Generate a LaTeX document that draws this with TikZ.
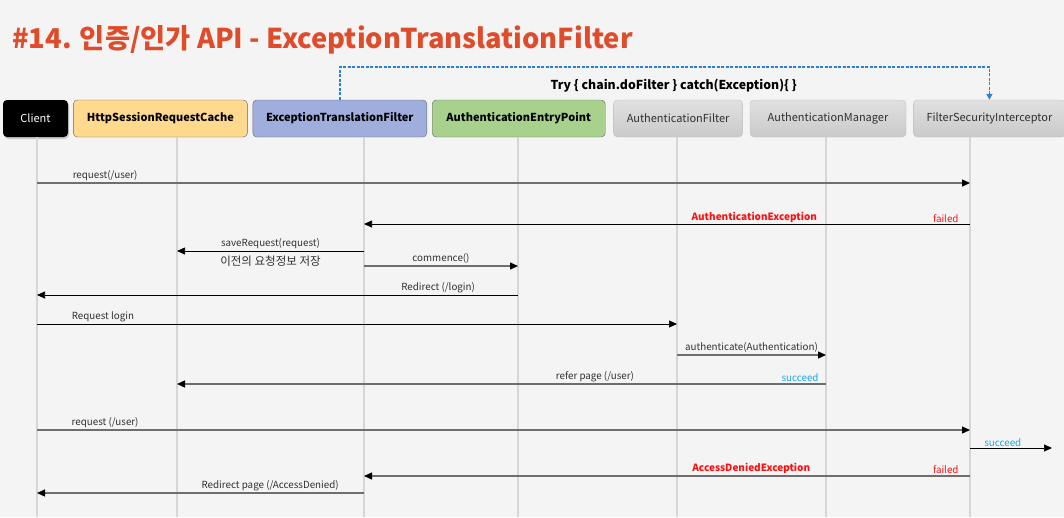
\documentclass[tikz,border=0pt]{standalone}
\usepackage{fontspec}
\setmainfont{Noto Sans CJK KR}
\usetikzlibrary{positioning,arrows.meta,shadows}

\definecolor{bgcol}{HTML}{F4F4F4}
\definecolor{titlecol}{HTML}{DE4C2C}
\definecolor{cachecol}{HTML}{FFD98E}
\definecolor{etfcol}{HTML}{9FAEDD}
\definecolor{aepcol}{HTML}{A9D18E}
\definecolor{lifecol}{HTML}{D6D6D6}
\definecolor{msggray}{HTML}{6E6E6E}
\definecolor{failcol}{HTML}{FF1010}
\definecolor{okcol}{HTML}{1AA7E6}
\definecolor{trycol}{HTML}{2A82D4}
\definecolor{txtcol}{HTML}{303030}

\begin{document}
\begin{tikzpicture}[x=1pt,y=-1pt,node distance=5pt,
   box/.style={rounded corners=4pt,minimum height=37pt,inner sep=0pt,font=\fontsize{11}{13}\selectfont},
   hdr/.style={box,draw=black!60,fill=#1,font=\fontsize{11}{13}\selectfont\bfseries},
   greybox/.style={box,draw=black!25,top color=black!12,bottom color=black!21,text=txtcol},
   life/.style={draw=lifecol,line width=1.3pt},
   msg/.style={-{Triangle[length=8pt,width=7pt,color=black]},line width=0.7pt},
   msgg/.style={msg,draw=msggray,line width=1.2pt},
   lbl/.style={font=\fontsize{9.8}{11}\selectfont,text=txtcol,inner sep=1.5pt},
   exc/.style={lbl,text=failcol,font=\fontsize{10}{11}\selectfont\bfseries},
   fail/.style={lbl,text=failcol},
   ok/.style={lbl,text=okcol},
   trydash/.style={draw=trycol,line width=1.4pt,dash pattern=on 3pt off 1.5pt,-{Triangle[length=6pt,width=6pt]}}]
   \path[use as bounding box,fill=bgcol] (0,0) rectangle (1064,517);
   \node[anchor=base west,inner sep=0pt,text=titlecol,font=\fontsize{27.3}{32}\selectfont\bfseries] (title) at (12,48)
      {\#14. 인증/인가 API - ExceptionTranslationFilter};

   \node[box,fill=black,text=white,minimum width=65pt,drop shadow={shadow xshift=1pt,shadow yshift=-2pt,opacity=.35}] (client) at (35.5,118.5) {Client};
   \node[hdr=cachecol,minimum width=174pt,right=of client] (cache) {HttpSessionRequestCache};
   \node[hdr=etfcol,minimum width=174pt,right=of cache] (etf) {ExceptionTranslationFilter};
   \node[hdr=aepcol,minimum width=173pt,right=of etf] (aep) {AuthenticationEntryPoint};
   \node[greybox,minimum width=129pt,right=8pt of aep] (af) {AuthenticationFilter};
   \node[greybox,minimum width=156pt,right=7pt of af] (am) {AuthenticationManager};
   \node[greybox,minimum width=152pt,right=7pt of am] (fsi) {FilterSecurityInterceptor};

   \foreach \n/\x in {client/37,cache/177,etf/364,aep/518,af/677,am/826,fsi/970}
      \draw[life] (\n.south -| \x,0) coordinate (l\n) -- (\x,517);

   \draw[trydash] (etf.north) -- (etf.north |- 0,67) -| node[pos=.257,below=11pt,inner sep=0pt,text=black,font=\fontsize{12.3}{14}\selectfont\bfseries]
      {Try \{ chain.doFilter \} catch(Exception)\{ \}} (fsi.north);

   \draw[msgg] (lclient |- 0,183) -- node[lbl,above,pos=.073] {request(/user)} (lfsi |- 0,183);
   \draw[msg] (lfsi |- 0,224) -- node[exc,above,pos=.356] {AuthenticationException}
      node[fail,above,pos=.04] {failed} (letf |- 0,224);
   \draw[msg] (letf |- 0,251) -- node[lbl,above] {saveRequest(request)}
      node[lbl,below=3pt,font=\fontsize{11.5}{13}\selectfont] {이전의 요청정보 저장} (lcache |- 0,251);
   \draw[msgg] (letf |- 0,266) -- node[lbl,above] {commence()} (laep |- 0,266);
   \draw[msg] (laep |- 0,295) -- node[lbl,above,pos=.166] {Redirect (/login)} (lclient |- 0,295);
   \draw[msg] (lclient |- 0,324) -- node[lbl,above,pos=.103] {Request login} (laf |- 0,324);
   \draw[msgg] (laf |- 0,355) -- node[lbl,above] {authenticate(Authentication)} (lam |- 0,355);
   \draw[msgg] (lam |- 0,384) -- node[lbl,above,pos=.356] {refer page (/user)}
      node[ok,above,pos=.04] {succeed} (lcache |- 0,384);
   \draw[msgg] (lclient |- 0,430) -- node[lbl,above,pos=.073] {request (/user)} (lfsi |- 0,430);
   \coordinate (out) at (1052,448);
   \draw[msg] (lfsi |- 0,448) -- node[ok,above,pos=.4] {succeed} (out);
   \draw[msgg] (lfsi |- 0,476) -- node[exc,above,pos=.361] {AccessDeniedException}
      node[fail,above,pos=.04] {failed} (letf |- 0,476);
   \draw[msgg] (letf |- 0,493) -- node[lbl,above,pos=.287] {Redirect page (/AccessDenied)} (lclient |- 0,493);
\end{tikzpicture}
\end{document}
